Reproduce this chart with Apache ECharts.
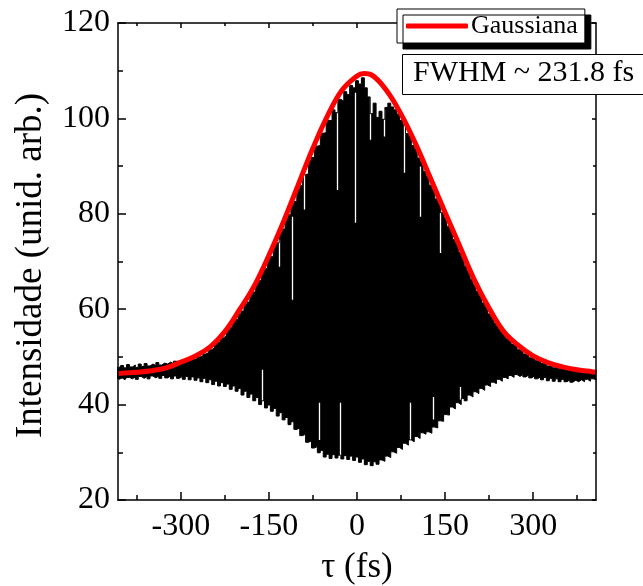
<!DOCTYPE html>
<html>
<head>
<meta charset="utf-8">
<script src="https://cdn.jsdelivr.net/npm/echarts@6/dist/echarts.min.js"></script>
<style>
	html, body { margin: 0; padding: 0; background: #fff; }
	#chart { width: 643px; height: 586px; }
</style>
</head>
<body>
<div id="chart"></div>
<script>
	// sample grid of the autocorrelation trace (fs)
	const tauStart = -410
	const tauStep = 5

	// upper edge of the black trace, read every 5 fs from -410 to 410
	const traceUpper = [
		47.9,
		47.6, 48.2, 47.7, 48.4, 47.9, 48.3, 47.8, 48.5, 48.0, 48.6,
		48.1, 48.5, 48.2, 48.8, 48.3, 48.7, 48.5, 48.9, 48.6, 49.1,
		48.8, 49.2, 48.9, 49.4, 49.2, 49.6, 49.5, 50.0, 50.1, 50.6,
		50.9, 51.5, 51.9, 52.6, 53.1, 54.0, 54.4, 55.6, 56.1, 57.3,
		57.8, 59.0, 59.6, 61.0, 61.5, 63.0, 63.6, 65.3, 66.0, 67.8,
		68.5, 70.4, 71.0, 73.2, 73.9, 76.0, 76.8, 79.0, 79.8, 82.0,
		82.6, 85.1, 85.9, 88.2, 88.4, 91.2, 91.8, 94.2, 94.3, 96.9,
		97.0, 99.6, 99.5, 101.8, 101.2, 104.0, 103.6, 105.6, 105.0, 106.9,
		106.4, 107.9, 107.2, 108.5, 106.4, 104.5, 101.0, 103.2, 100.2, 101.5,
		99.8, 102.3, 103.2, 102.4, 101.8, 100.9, 99.6, 98.7, 96.8, 96.2,
		94.3, 93.6, 91.7, 90.9, 88.9, 87.9, 86.0, 85.1, 83.1, 82.2,
		80.2, 79.3, 77.4, 76.5, 74.6, 73.6, 71.9, 70.8, 69.0, 67.9,
		66.3, 65.1, 63.7, 62.8, 61.3, 60.5, 59.0, 58.4, 57.1, 56.4,
		55.3, 54.7, 53.8, 53.4, 52.6, 52.3, 51.5, 51.3, 50.6, 50.4,
		49.8, 49.7, 49.2, 49.2, 48.6, 48.7, 48.1, 48.3, 47.7, 48.0,
		47.5, 47.8, 47.3, 47.6, 47.1, 47.5, 47.0, 47.3, 46.9, 47.2,
		46.8, 47.1, 46.9,
		47.1
	]

	// lower edge of the black trace, same grid
	const traceLower = [
		45.6,
		45.3, 45.6, 45.2, 45.7, 45.4, 45.8, 45.3, 45.9, 45.5, 45.9,
		45.4, 46.0, 45.6, 46.0, 45.5, 46.1, 45.6, 46.0, 45.4, 46.0,
		45.5, 45.9, 45.3, 45.9, 45.2, 45.8, 45.1, 45.6, 44.8, 45.5,
		44.6, 45.2, 44.2, 44.9, 43.9, 44.6, 43.8, 44.3, 43.2, 43.9,
		42.8, 43.4, 42.0, 42.8, 41.5, 42.2, 40.8, 41.5, 40.0, 40.8,
		39.3, 39.9, 38.6, 39.2, 37.6, 38.3, 36.8, 37.3, 35.8, 36.4,
		34.8, 35.1, 33.5, 33.8, 32.1, 32.4, 30.9, 31.2, 29.9, 30.4,
		29.0, 29.6, 28.7, 29.5, 28.8, 29.4, 28.6, 29.3, 28.5, 29.2,
		28.3, 29.0, 27.9, 28.6, 27.4, 28.1, 27.2, 28.0, 27.5, 28.4,
		28.1, 29.2, 28.9, 30.1, 29.8, 31.0, 30.6, 31.9, 31.5, 32.6,
		32.2, 33.3, 32.9, 34.1, 33.8, 34.3, 34.0, 35.3, 35.1, 36.6,
		36.5, 37.9, 37.8, 39.5, 39.1, 40.4, 40.0, 41.3, 40.8, 42.0,
		41.6, 42.7, 42.3, 43.4, 43.0, 44.1, 43.8, 44.7, 44.4, 45.3,
		44.9, 45.7, 45.4, 46.1, 45.7, 46.3, 45.9, 46.3, 45.8, 46.2,
		45.6, 46.0, 45.4, 45.8, 45.2, 45.7, 45.0, 45.5, 44.9, 45.4,
		44.8, 45.3, 44.8, 45.2, 44.7, 45.1, 44.8, 45.2, 44.8, 45.3,
		44.9, 45.4, 45.2,
		45.3
	]

	// thin white gaps inside the black trace: position, top, bottom
	const slitTau = [-161, -133, -110, -90, -65, -34, -28, -3, 23, 46, 80, 91, 108, 130, 142, 176]
	const slitTop = [47.3, 74.6, 79.4, 89.3, 40.4, 101.8, 40.4, 105.4, 107.4, 101.8, 99.0, 40.4, 89.9, 41.6, 80.2, 43.7]
	const slitBottom = [38.9, 68.9, 62.0, 80.9, 32.6, 85.0, 29.1, 78.1, 95.5, 96.2, 88.6, 32.6, 79.4, 36.9, 71.8, 41.0]

	// red gaussian fit
	const gaussTau = [-407, -400, -375, -350, -325, -300, -275, -250, -225, -200,
		-175, -150, -125, -100, -75, -50, -25, 0, 12, 25, 50, 75, 100, 125,
		150, 175, 200, 225, 250, 275, 300, 325, 350, 375, 400, 407]
	const gaussVal = [46.5, 46.6, 46.8, 47.1, 47.7, 48.9, 50.2, 52.1, 55.3, 59.9,
		64.9, 71.3, 78.4, 86.1, 93.8, 100.6, 106.0, 108.9, 109.4, 109.1, 105.9, 100.9, 94.6, 87.5,
		80.3, 73.2, 66.1, 60.2, 55.3, 52.4, 50.2, 48.8, 47.9, 47.3, 46.9, 46.8]

	const xMajor = [-300, -150, 0, 150, 300]
	const xMinor = [-375, -225, -75, 75, 225, 375]

	const serif = 'Liberation Serif'

	let upperData = []
	let lowerData = []
	for (let i = 0; i < traceUpper.length; i++) {
		let t = tauStart + i * tauStep
		upperData.push([t, traceUpper[i]])
		lowerData.push([t, traceLower[i]])
	}
	let slitData = slitTau.map((t, i) => ({ coords: [[t, slitTop[i]], [t, slitBottom[i]]] }))
	let gaussData = gaussTau.map((t, i) => [t, gaussVal[i]])

	function xAxisOf(pos, ticks, len, showLabel, showLine) {
		return {
			type: 'value',
			position: pos,
			min: -407,
			max: 407,
			z: 10,
			axisLine: { show: showLine, onZero: false, lineStyle: { color: '#000', width: 1.5 } },
			axisTick: { show: true, inside: true, length: len, customValues: ticks, lineStyle: { color: '#000', width: 1.5 } },
			axisLabel: showLabel ? { show: true, customValues: ticks, margin: 11, color: '#000', fontSize: 32, fontFamily: serif } : { show: false },
			splitLine: { show: false }
		}
	}

	function yAxisOf(pos, len, showLabel) {
		return {
			type: 'value',
			position: pos,
			min: 20,
			max: 120,
			interval: 20,
			z: 10,
			axisLine: { show: true, onZero: false, lineStyle: { color: '#000', width: 1.5 } },
			axisTick: { show: true, inside: true, length: len, lineStyle: { color: '#000', width: 1.5 } },
			minorTick: { show: true, splitNumber: 2, length: len / 2 + 1, lineStyle: { color: '#000', width: 1.5 } },
			axisLabel: { show: showLabel, margin: 8, color: '#000', fontSize: 32, fontFamily: serif },
			splitLine: { show: false }
		}
	}

	let xBottom = xAxisOf('bottom', xMajor, 8, true, true)
	xBottom.name = 'τ (fs)'
	xBottom.nameLocation = 'middle'
	xBottom.nameGap = 50
	xBottom.nameTextStyle = { color: '#000', fontSize: 35, fontFamily: serif }

	let yLeft = yAxisOf('left', 8, true)
	yLeft.name = 'Intensidade (unid. arb.)'
	yLeft.nameLocation = 'middle'
	yLeft.nameGap = 68
	yLeft.nameTextStyle = { color: '#000', fontSize: 37, fontFamily: serif, padding: [0, 8, 0, 0] }

	let option = {
		backgroundColor: '#fff',
		animation: false,
		grid: { left: 118, right: 47, top: 23, bottom: 86, containLabel: false, outerBoundsMode: 'none' },
		xAxis: [
			xBottom,
			xAxisOf('bottom', xMinor, 5, false, false),
			xAxisOf('top', xMajor, 5, false, true),
			xAxisOf('top', xMinor, 3, false, false)
		],
		yAxis: [
			yLeft,
			yAxisOf('right', 4, false)
		],
		legend: {
			left: 397,
			top: 9,
			z: 20,
			padding: [4, 7, 4, 9],
			backgroundColor: '#fff',
			borderColor: '#000',
			borderWidth: 1,
			borderRadius: 0,
			shadowColor: '#000',
			shadowBlur: 0,
			shadowOffsetX: 6,
			shadowOffsetY: 6,
			itemWidth: 62,
			itemHeight: 5,
			itemGap: 4,
			data: [{ name: 'Gaussiana', icon: 'roundRect' }],
			textStyle: { color: '#000', fontSize: 26, fontFamily: serif, padding: [0, 0, 0, -2] }
		},
		graphic: [{
			type: 'rect',
			left: 402,
			top: 54,
			z: 30,
			shape: { x: 0, y: 0, width: 260, height: 40 },
			style: { fill: '#fff', stroke: '#000', lineWidth: 1 }
		}, {
			type: 'text',
			left: 413,
			top: 58,
			z: 31,
			style: { text: 'FWHM ~ 231.8 fs', fill: '#000', font: '30px "Liberation Serif"' }
		}],
		series: [{
			// black fill from the upper edge down to the axis
			name: 'trace',
			type: 'line',
			step: 'middle',
			symbol: 'none',
			silent: true,
			lineStyle: { color: '#000', width: 1 },
			areaStyle: { color: '#000', opacity: 1, origin: 'start' },
			data: upperData,
			z: 2
		}, {
			// white fill below the lower edge
			name: 'traceLow',
			type: 'line',
			step: 'middle',
			symbol: 'none',
			silent: true,
			lineStyle: { color: '#000', width: 1 },
			areaStyle: { color: '#fff', opacity: 1, origin: 'start' },
			data: lowerData,
			z: 2
		}, {
			name: 'slits',
			type: 'lines',
			coordinateSystem: 'cartesian2d',
			silent: true,
			lineStyle: { color: '#fff', width: 1.3, opacity: 1 },
			data: slitData,
			z: 2
		}, {
			name: 'Gaussiana',
			type: 'line',
			symbol: 'none',
			smooth: 0.4,
			lineStyle: { color: '#ff0000', width: 5 },
			itemStyle: { color: '#ff0000' },
			data: gaussData,
			z: 3
		}]
	}

	let chart = echarts.init(document.getElementById('chart'))
	chart.setOption(option)
</script>
</body>
</html>
